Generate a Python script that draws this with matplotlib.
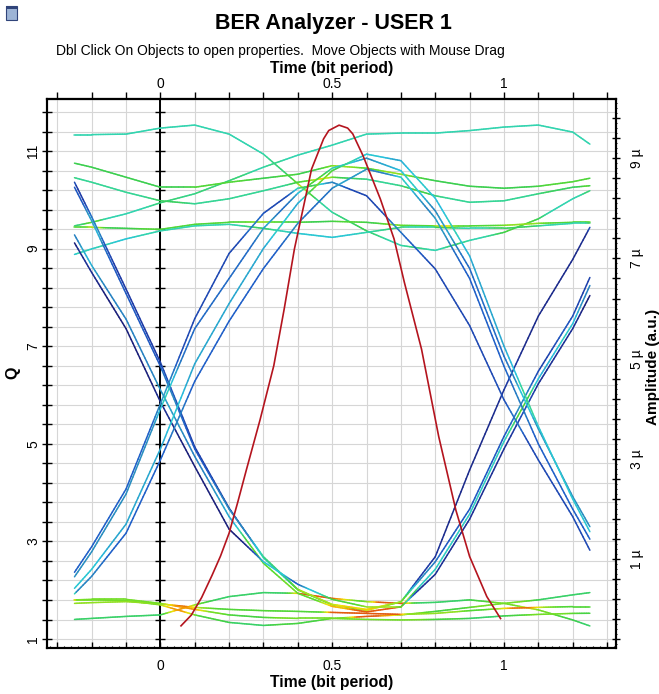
import numpy as np
import matplotlib
matplotlib.use("Agg")
import matplotlib.pyplot as plt
from matplotlib.collections import LineCollection
from matplotlib.colors import LinearSegmentedColormap
from matplotlib.patches import Rectangle
from matplotlib.ticker import FixedLocator, FuncFormatter

plt.rcParams['font.family'] = ['Liberation Sans', 'DejaVu Sans']

# eye diagram traces, amplitude in micro units, sampled at these times (bit period)
t = [-0.25, -0.2, -0.1, 0.0, 0.1, 0.2, 0.3, 0.4, 0.5, 0.6, 0.7, 0.8, 0.9, 1.0, 1.1, 1.2, 1.25]

top1 = [9.47, 9.47, 9.48, 9.60, 9.66, 9.48, 9.08, 8.49, 7.92, 7.55, 7.26, 7.16, 7.36, 7.52, 7.79, 8.19, 8.35]
top2 = [7.65, 7.72, 7.89, 8.11, 8.29, 8.55, 8.82, 9.06, 9.26, 9.48, 9.50, 9.50, 9.55, 9.62, 9.66, 9.52, 9.28]
top3 = [8.90, 8.82, 8.62, 8.42, 8.42, 8.52, 8.60, 8.68, 8.85, 8.80, 8.68, 8.55, 8.44, 8.40, 8.44, 8.53, 8.60]
top4 = [8.61, 8.52, 8.32, 8.15, 8.09, 8.19, 8.35, 8.52, 8.62, 8.58, 8.45, 8.25, 8.12, 8.15, 8.29, 8.42, 8.45]
top5 = [7.62, 7.62, 7.60, 7.58, 7.68, 7.72, 7.72, 7.72, 7.74, 7.72, 7.66, 7.65, 7.65, 7.66, 7.70, 7.72, 7.72]
top6 = [7.08, 7.19, 7.39, 7.55, 7.65, 7.68, 7.60, 7.50, 7.42, 7.52, 7.62, 7.62, 7.60, 7.60, 7.65, 7.70, 7.70]

low1 = [0.19, 0.19, 0.175, 0.09, -0.11, -0.26, -0.32, -0.28, -0.18, -0.14, -0.11, -0.04, 0.04, 0.12, 0.19, 0.29, 0.335]
low2 = [-0.20, -0.18, -0.14, -0.11, 0.09, 0.255, 0.335, 0.32, 0.22, 0.155, 0.12, 0.14, 0.19, 0.12, -0.01, -0.21, -0.33]
low3 = [0.12, 0.135, 0.155, 0.11, 0.04, 0.0, -0.025, -0.04, -0.06, -0.08, -0.10, -0.08, -0.025, 0.02, 0.04, 0.056, 0.056]
low4 = [0.19, 0.20, 0.20, 0.12, 0.0, -0.11, -0.16, -0.18, -0.18, -0.20, -0.21, -0.20, -0.18, -0.13, -0.10, -0.08, -0.077]

fall1 = [8.52, 7.83, 6.39, 4.93, 3.24, 2.02, 1.03, 0.39, 0.09, -0.02, 0.15, 1.05, 2.78, 4.38, 5.85, 6.98, 7.62]
fall2 = [8.42, 7.75, 6.30, 4.85, 3.20, 2.00, 1.05, 0.40, 0.10, 0.00, 0.15, 0.95, 2.00, 3.45, 4.75, 5.85, 6.62]
fall3 = [7.47, 6.86, 5.79, 4.38, 3.05, 1.85, 0.92, 0.32, 0.06, -0.05, 0.05, 0.80, 1.90, 3.35, 4.60, 5.70, 6.46]
fall4 = [7.31, 6.72, 5.60, 4.14, 2.85, 1.60, 0.95, 0.50, 0.20, 0.05, 0.05, 0.70, 1.80, 3.20, 4.50, 5.60, 6.26]

rise1 = [0.74, 1.25, 2.40, 4.10, 5.80, 7.10, 7.90, 8.40, 8.52, 8.25, 7.52, 6.79, 5.66, 4.18, 2.98, 1.85, 1.18]
rise2 = [0.65, 1.15, 2.30, 4.00, 5.60, 6.60, 7.60, 8.30, 8.80, 9.00, 8.75, 7.95, 6.80, 5.05, 3.60, 2.25, 1.65]
rise3 = [0.42, 0.80, 1.70, 3.20, 4.90, 6.10, 7.20, 8.10, 8.75, 9.08, 8.95, 8.20, 7.05, 5.25, 3.65, 2.20, 1.55]
rise4 = [0.31, 0.66, 1.52, 2.98, 4.55, 5.75, 6.80, 7.70, 8.40, 8.78, 8.62, 7.80, 6.60, 4.85, 3.30, 2.00, 1.40]

traces = [top1, top2, top3, top4, top5, top6,
          low1, low2, low3, low4,
          fall1, fall2, fall3, fall4,
          rise1, rise2, rise3, rise4]
# colour level of each trace (how many bits share that path)
level = [0.44, 0.44, 0.55, 0.47, 0.55, 0.38,
         0.52, 0.52, 0.55, 0.52,
         0.04, 0.12, 0.26, 0.0,
         0.14, 0.22, 0.32, 0.2]

# Q factor curve
q_time = [0.06, 0.09, 0.12, 0.15, 0.175, 0.2, 0.225, 0.25, 0.29, 0.33, 0.36, 0.39, 0.44, 0.475,
          0.49, 0.52, 0.545, 0.56, 0.59, 0.64, 0.68, 0.71, 0.76, 0.81, 0.86, 0.9, 0.95, 0.99]
q_val = [1.27, 1.49, 1.85, 2.3, 2.7, 3.17, 3.8, 4.46, 5.49, 6.6, 7.75, 8.99, 10.63, 11.25,
         11.42, 11.53, 11.47, 11.35, 10.9, 10.02, 9.2, 8.31, 6.94, 5.15, 3.64, 2.69, 1.87, 1.42]

cmap = LinearSegmentedColormap.from_list("eye", [
    (0.00, '#1a1f7a'), (0.10, '#1d3aa6'), (0.20, '#1f5fc8'), (0.28, '#2a8fc0'),
    (0.36, '#28c2e0'), (0.45, '#33d6a8'), (0.55, '#3ccf4e'), (0.65, '#5fdc2a'),
    (0.74, '#b5e31c'), (0.82, '#f2e205'), (0.90, '#f39a00'), (1.00, '#d2231a')])
crowd = np.array([0, 0.06, 0.15, 0.38, 0.6, 0.72, 0.8, 0.85, 0.9, 0.9, 0.9, 0.9, 0.9, 0.9, 0.9, 0.9, 0.9, 0.9])

fig = plt.figure(figsize=(6.59, 6.94), dpi=100)
ax = fig.add_axes([47/659, 1-648/694, 569/659, 549/694])
ax2 = ax.twinx()

ax.set_xlim(-0.33, 1.326)
ax.set_ylim(0.816, 12.066)
ax2.set_ylim(-0.77, 10.18)

# grid + ticks, left (Q)
q_ticks = np.round(np.arange(1.0, 12.0, 0.4), 1)
ax.yaxis.set_major_locator(FixedLocator(q_ticks))
ax.yaxis.set_major_formatter(FuncFormatter(
    lambda v, p: f"{v:.0f}" if abs(v - round(v)) < 1e-6 and round(v) % 2 == 1 else ""))
x_ticks = np.round(np.arange(-0.3, 1.31, 0.1), 1)
x_fmt = FuncFormatter(lambda v, p: {0.0: "0", 0.5: "0.5", 1.0: "1"}.get(round(v, 1), ""))
ax.xaxis.set_major_locator(FixedLocator(x_ticks))
ax.xaxis.set_major_formatter(x_fmt)
ax.xaxis.set_minor_locator(FixedLocator(np.round(np.arange(-0.32, 1.326, 0.02), 2)))
ax.grid(which='major', color='#d6d6d6', lw=0.8)
ax.set_axisbelow(True)

ax.tick_params(axis='x', which='major', direction='in', length=4, width=1, labelsize=10, pad=8)
ax.tick_params(axis='x', which='minor', direction='in', length=1.5, width=0.8)
ax.tick_params(axis='y', which='major', direction='inout', length=7, width=1,
               labelsize=10, pad=1.5, labelrotation=90)
for lab in ax.get_yticklabels():
    lab.set_va('center')

top = ax.secondary_xaxis('top')
top.xaxis.set_major_locator(FixedLocator(x_ticks))
top.xaxis.set_major_formatter(x_fmt)
top.tick_params(direction='out', length=5, width=1, labelsize=10, pad=0.5)

# right (amplitude)
a_ticks = np.round(np.arange(-0.6, 10.1, 0.4), 1)
ax2.yaxis.set_major_locator(FixedLocator(a_ticks))
ax2.yaxis.set_major_formatter(FuncFormatter(
    lambda v, p: f"{v:.0f} µ" if abs(v - round(v)) < 1e-6 and round(v) % 2 == 1 else ""))
ax2.yaxis.set_minor_locator(FixedLocator(np.round(np.arange(-0.7, 10.15, 0.1), 1)))
ax2.tick_params(axis='y', which='major', direction='inout', length=6, width=1,
                labelsize=10, pad=7, labelrotation=90)
ax2.tick_params(axis='y', which='minor', direction='inout', length=2, width=0.7)
for lab in ax2.get_yticklabels():
    lab.set_va('center')

for a in (ax, ax2):
    for s in a.spines.values():
        s.set_linewidth(1.5)
        s.set_color('k')
for s in top.spines.values():
    s.set_linewidth(1.5)

# t = 0 reference line with its tick marks
ax.axvline(0, color='k', lw=1.4, zorder=1.5)
ax.plot(np.zeros_like(q_ticks), q_ticks, ls='none', marker='_', ms=7, mew=1.0, color='k', zorder=1.6)

# eye traces, coloured by how crowded the path is
T = np.array(t)
E = np.array(traces)
tt = np.linspace(t[0], t[-1], 301)
Y = np.array([np.interp(tt, T, row) for row in E])
for i in range(len(E)):
    n = (np.abs(Y - Y[i]) < 0.15).sum(axis=0) - 1
    raw = level[i] + crowd[n]
    v = np.convolve(raw, np.ones(9) / 9, mode='same')
    v[:4] = raw[:4]
    v[-4:] = raw[-4:]
    v = np.clip(v, 0, 0.95)
    pts = np.column_stack([tt, Y[i]])
    segs = np.stack([pts[:-1], pts[1:]], axis=1)
    lc = LineCollection(segs, colors=cmap(0.5 * (v[:-1] + v[1:])), linewidths=1.1,
                        capstyle='round', zorder=3)
    ax2.add_collection(lc)

ax2.plot(q_time, q_val, color='#b4141e', lw=1.2, transform=ax.transData, zorder=4)

# texts
fig.text(333/659, 1-23/694, 'BER Analyzer - USER 1', ha='center', va='center',
         fontsize=15.5, fontweight='bold')
fig.text(280/659, 1-51/694, 'Dbl Click On Objects to open properties.  Move Objects with Mouse Drag',
         ha='center', va='center', fontsize=10)
fig.text(332/659, 1-68/694, 'Time (bit period)', ha='center', va='center',
         fontsize=11.3, fontweight='bold')
fig.text(332/659, 1-683/694, 'Time (bit period)', ha='center', va='center',
         fontsize=11.3, fontweight='bold')
fig.text(13/659, 1-373/694, 'Q', ha='center', va='center', rotation=90,
         fontsize=11.5, fontweight='bold')
fig.text(653/659, 1-367/694, 'Amplitude (a.u.)', ha='center', va='center', rotation=90,
         fontsize=11, fontweight='bold')

# little window icon top left
fig.add_artist(Rectangle((6/659, 1-20/694), 11/659, 14/694, transform=fig.transFigure,
                         facecolor='#9db4d6', edgecolor='#30447a', lw=0.8))
fig.add_artist(Rectangle((6/659, 1-9/694), 11/659, 3/694, transform=fig.transFigure,
                         facecolor='#30447a', edgecolor='none'))

fig.savefig('out.png', dpi=100)
